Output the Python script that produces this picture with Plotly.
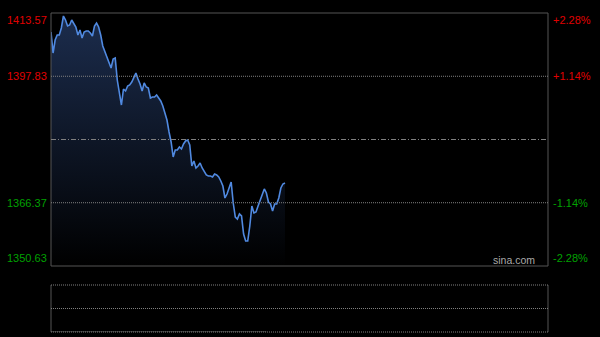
import plotly.graph_objects as go

# ---- data ----
prev_close = 1382.10
y_ticks_left = [1413.57, 1397.83, 1366.37, 1350.63]
y_ticks_right = ["+2.28%", "+1.14%", "-1.14%", "-2.28%"]
tick_colors = ["#e00000", "#e00000", "#00a000", "#00a000"]
prices = [
    1408.84, 1403.62, 1406.85, 1408.10, 1408.10, 1409.84, 1412.82, 1411.83, 1410.34, 1410.58,
    1411.83, 1410.83, 1410.09, 1408.10, 1409.34, 1407.35, 1408.84, 1409.09, 1409.09, 1408.59,
    1407.85, 1410.34, 1411.08, 1410.09, 1408.10, 1405.36, 1403.87, 1402.87, 1401.13, 1399.89,
    1402.13, 1402.38, 1396.90, 1393.17, 1390.68, 1394.66, 1394.17, 1395.41, 1395.66, 1396.40,
    1397.40, 1398.64, 1397.15, 1395.91, 1394.17, 1396.16, 1395.16, 1394.91, 1392.42, 1392.67,
    1392.67, 1393.17, 1392.42, 1391.68, 1390.43, 1388.94, 1386.95, 1383.97, 1381.48, 1377.75,
    1379.49, 1379.49, 1380.23, 1379.74, 1380.98, 1381.73, 1381.98, 1380.73, 1375.51, 1376.75,
    1375.01, 1375.51, 1376.25, 1375.01, 1374.02, 1373.27, 1373.02, 1373.02, 1372.77, 1373.52,
    1373.27, 1372.77, 1371.78, 1370.53, 1367.55, 1368.54, 1370.04, 1371.53, 1366.30, 1362.82,
    1362.32, 1363.57, 1363.07, 1358.59, 1356.85, 1356.85, 1360.58, 1365.56, 1363.82, 1364.06,
    1365.56, 1367.05, 1368.29, 1369.79, 1368.79, 1366.55, 1366.05, 1364.31, 1366.05, 1366.05,
    1367.55, 1370.04, 1371.03, 1371.28,
]
minutes = list(range(len(prices)))
session_minutes = 240

# ---- layout geometry ----
W, H = 600, 337
ml, mr, mt, mb = 51, 52, 13, 5
plot_h = H - mt - mb
main_bottom = (332 - 266) / plot_h
vol_top = (332 - 285) / plot_h

fig = go.Figure()
fig.add_trace(go.Scatter(
    x=minutes, y=prices, mode="lines",
    line=dict(color="#5089e0", width=1.6),
    fill="tozeroy",
    fillgradient=dict(type="vertical",
                      colorscale=[[0, "#000000"], [1, "#1c2d4e"]],
                      start=y_ticks_left[-1], stop=y_ticks_left[0]),
    hoverinfo="skip", showlegend=False, xaxis="x", yaxis="y",
))
fig.add_trace(go.Scatter(
    x=minutes[:105], y=[0] * 105, mode="lines",
    line=dict(color="#5a5a5a", width=1),
    hoverinfo="skip", showlegend=False, xaxis="x2", yaxis="y2",
))

grid_col = "#808080"
border_col = "#555555"
dotted = "1px,1px"
shapes = [
    dict(type="rect", xref="paper", yref="paper", x0=0, x1=1, y0=main_bottom, y1=1,
         line=dict(color=border_col, width=1)),
    dict(type="line", xref="paper", yref="y", x0=0, x1=1, y0=y_ticks_left[1], y1=y_ticks_left[1],
         line=dict(color=grid_col, width=1, dash=dotted)),
    dict(type="line", xref="paper", yref="y", x0=0, x1=1, y0=y_ticks_left[2], y1=y_ticks_left[2],
         line=dict(color=grid_col, width=1, dash=dotted)),
    dict(type="line", xref="paper", yref="y", x0=0, x1=1, y0=prev_close, y1=prev_close,
         line=dict(color=grid_col, width=1, dash="5px,2px,1px,2px")),
    # volume panel
    dict(type="line", xref="paper", yref="paper", x0=0, x1=0, y0=0, y1=vol_top,
         line=dict(color=border_col, width=1)),
    dict(type="line", xref="paper", yref="paper", x0=1, x1=1, y0=0, y1=vol_top,
         line=dict(color=border_col, width=1)),
    dict(type="line", xref="paper", yref="paper", x0=0, x1=1, y0=vol_top, y1=vol_top,
         line=dict(color=grid_col, width=1, dash=dotted)),
    dict(type="line", xref="paper", yref="paper", x0=0, x1=1, y0=vol_top / 2, y1=vol_top / 2,
         line=dict(color=grid_col, width=1, dash=dotted)),
    dict(type="line", xref="paper", yref="paper", x0=0, x1=1, y0=0, y1=0,
         line=dict(color=grid_col, width=1, dash=dotted)),
]

font = dict(family="Liberation Sans, Arial, sans-serif", size=11)
annotations = []
for i, (v, r, c) in enumerate(zip(y_ticks_left, y_ticks_right, tick_colors)):
    if i == 0:
        ya, ys = "top", 1
    elif i == len(y_ticks_left) - 1:
        ya, ys = "bottom", 0
    else:
        ya, ys = "middle", 0
    annotations.append(dict(xref="paper", yref="y", x=0, y=v, text=f"{v:.2f}",
                            xanchor="right", yanchor=ya, xshift=-2, yshift=ys,
                            showarrow=False, font=dict(color=c, **font)))
    annotations.append(dict(xref="paper", yref="y", x=1, y=v, text=r,
                            xanchor="left", yanchor=ya, xshift=3, yshift=ys,
                            showarrow=False, font=dict(color=c, **font)))
annotations.append(dict(xref="paper", yref="y", x=1, y=y_ticks_left[-1], text="sina.com",
                        xanchor="right", yanchor="bottom", xshift=-11, yshift=-2,
                        showarrow=False,
                        font=dict(color="#aaaaaa", family="Liberation Sans, Arial, sans-serif", size=10.5)))

fig.update_layout(
    width=W, height=H,
    margin=dict(l=ml, r=mr, t=mt, b=mb, pad=0),
    paper_bgcolor="#000000", plot_bgcolor="#000000",
    xaxis=dict(domain=[0, 1], range=[0, session_minutes], visible=False, fixedrange=True),
    yaxis=dict(domain=[main_bottom, 1], range=[y_ticks_left[-1], y_ticks_left[0]],
               visible=False, fixedrange=True),
    xaxis2=dict(domain=[0, 1], range=[0, session_minutes], visible=False, anchor="y2"),
    yaxis2=dict(domain=[0, vol_top], range=[0, 1], visible=False, anchor="x2"),
    shapes=shapes, annotations=annotations, showlegend=False,
)
fig.write_html("out.html", config={"displayModeBar": False})
